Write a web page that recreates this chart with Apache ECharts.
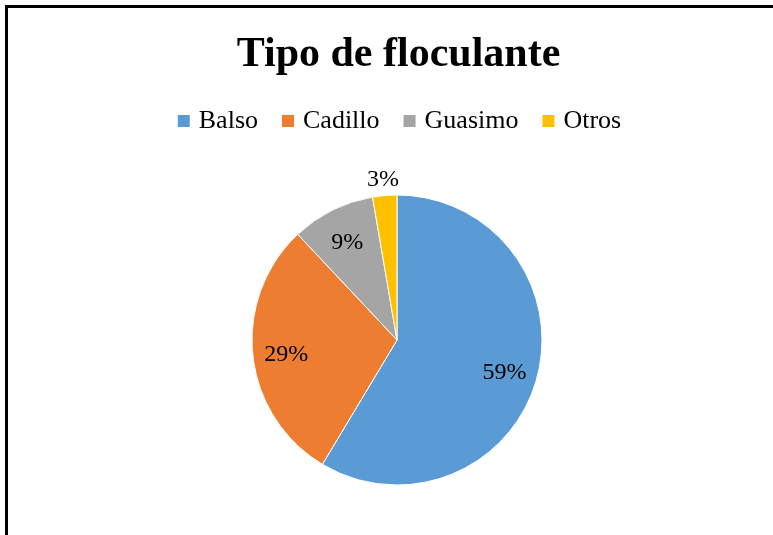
<!DOCTYPE html>
<html>
<head>
<meta charset="utf-8">
<script src="https://cdn.jsdelivr.net/npm/echarts@6/dist/echarts.min.js"></script>
<style>
  html, body { margin: 0; padding: 0; background: #fff; overflow: hidden; }
  /* the original chart area runs past the right edge of the picture */
  #main { width: 797px; height: 535px; }
</style>
</head>
<body>
<div id="main"></div>
<script>
// values (labels are rounded percentages)
var categories = ['Balso', 'Cadillo', 'Guasimo', 'Otros'];
var values = [58.6, 29.4, 9.3, 2.7];
var colors = ['#5B9BD5', '#ED7D31', '#A5A5A5', '#FFC000'];
var outsideLabels = ['Otros'];

var serif = '"Liberation Serif", "DejaVu Serif", serif';
var chart = echarts.init(document.getElementById('main'));

var pieData = categories.map(function (name, i) {
  return { name: name, value: values[i], itemStyle: { color: colors[i] } };
});

// labels sit on transparent rings so "inside" lands where Excel put them
function ringData(outside) {
  return categories.map(function (name, i) {
    var isOut = outsideLabels.indexOf(name) >= 0;
    return { name: name, value: values[i], label: { show: isOut === outside } };
  });
}

var labelStyle = {
  position: 'inside',
  fontFamily: serif,
  fontSize: 24,
  color: '#000',
  offset: [0, 3],
  formatter: function (p) { return Math.round(p.percent) + '%'; }
};

function labelRing(radius, outside) {
  return {
    type: 'pie',
    center: [397, 340],
    radius: radius,
    startAngle: 90,
    clockwise: true,
    silent: true,
    itemStyle: { color: 'rgba(0,0,0,0)' },
    label: labelStyle,
    labelLine: { show: false },
    emphasis: { disabled: true },
    data: ringData(outside)
  };
}

var option = {
  animation: false,
  title: {
    text: 'Tipo de floculante',
    left: 'center',
    top: 29,
    textStyle: { fontFamily: serif, fontSize: 42, fontWeight: 'bold', color: '#000' }
  },
  legend: {
    data: categories,
    top: 103,
    left: 'center',
    icon: 'rect',
    itemWidth: 14,
    itemHeight: 14,
    itemGap: 22,
    textStyle: { fontFamily: serif, fontSize: 26, color: '#000', padding: [0, 0, 0, 3] }
  },
  graphic: [{
    type: 'rect',
    shape: { x: 6.5, y: 6.5, width: 900, height: 700 },
    style: { fill: 'none', stroke: '#000', lineWidth: 3 },
    silent: true
  }],
  series: [
    {
      type: 'pie',
      center: [397, 340],
      radius: [0, 145],
      startAngle: 90,
      clockwise: true,
      label: { show: false },
      labelLine: { show: false },
      itemStyle: { borderColor: '#fff', borderWidth: 1 },
      emphasis: { disabled: true },
      data: pieData
    },
    labelRing([72, 145], false),
    labelRing([145, 177], true)
  ]
};

chart.setOption(option);
</script>
</body>
</html>
